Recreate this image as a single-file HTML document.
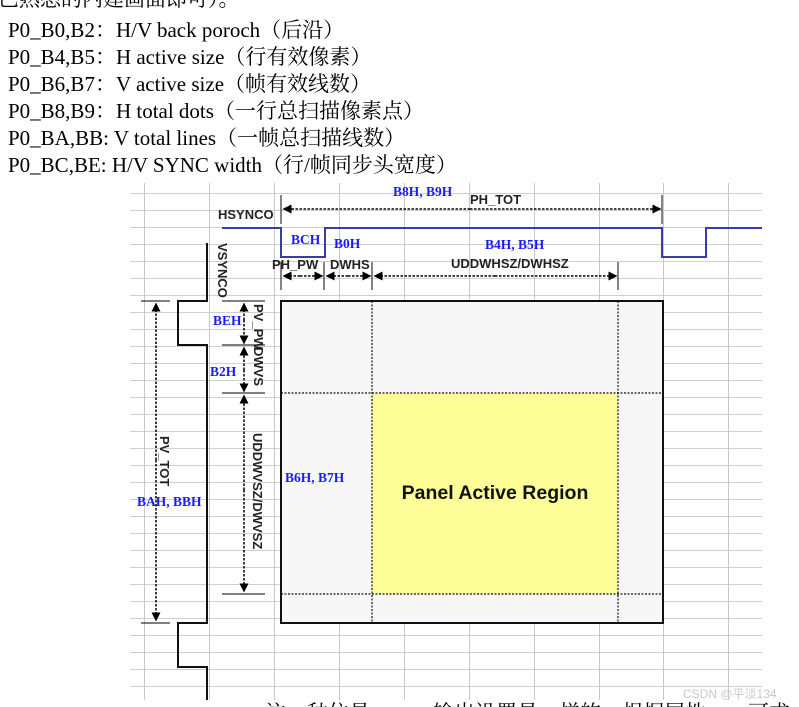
<!DOCTYPE html>
<html><head><meta charset="utf-8"><style>
html,body{margin:0;padding:0;background:#fff;width:799px;height:707px;overflow:hidden}
svg{display:block}
.t{font-family:"Liberation Serif","Noto Serif CJK SC",serif;font-size:21px;fill:#000}
.a{font-family:"Liberation Sans",sans-serif;font-size:13px;font-weight:bold;fill:#222}
.b{font-family:"Liberation Serif",serif;font-size:13.5px;font-weight:bold;fill:#1a1aff}
</style></head><body>
<svg width="799" height="707" viewBox="0 0 799 707" xmlns="http://www.w3.org/2000/svg">
<defs>
<pattern id="g" x="0" y="193" width="799" height="17" patternUnits="userSpaceOnUse">
<line x1="0" y1="0.5" x2="799" y2="0.5" stroke="#cfcfcf" stroke-width="1"/>
</pattern>
<marker id="ar" markerWidth="6" markerHeight="6" refX="5" refY="3" orient="auto"><path d="M0,0 L6,3 L0,6 z" fill="#000"/></marker>
</defs>
<text class="t" x="-2" y="6">已熟悉的内建画面即可）。</text>
<text class="t" x="8" y="37">P0_B0,B2：H/V back poroch（后沿）</text>
<text class="t" x="8" y="64">P0_B4,B5：H active size（行有效像素）</text>
<text class="t" x="8" y="91">P0_B6,B7：V active size（帧有效线数）</text>
<text class="t" x="8" y="118">P0_B8,B9：H total dots（一行总扫描像素点）</text>
<text class="t" x="8" y="145">P0_BA,BB: V total lines（一帧总扫描线数）</text>
<text class="t" x="8" y="172">P0_BC,BE: H/V SYNC width（行/帧同步头宽度）</text>
<rect x="130" y="183" width="632" height="517" fill="url(#g)"/>
<g stroke="#c8c8c8" stroke-width="1">
<line x1="144.5" y1="183" x2="144.5" y2="700"/><line x1="209.5" y1="183" x2="209.5" y2="700"/>
<line x1="274.5" y1="183" x2="274.5" y2="700"/><line x1="339.5" y1="183" x2="339.5" y2="700"/>
<line x1="404.5" y1="183" x2="404.5" y2="700"/><line x1="469.5" y1="183" x2="469.5" y2="700"/>
<line x1="534.5" y1="183" x2="534.5" y2="700"/><line x1="599.5" y1="183" x2="599.5" y2="700"/>
<line x1="663.5" y1="183" x2="663.5" y2="700"/><line x1="728.5" y1="183" x2="728.5" y2="700"/>
</g>
<rect x="281" y="301" width="382" height="322" fill="#f7f7f7" stroke="#111" stroke-width="2"/>
<rect x="372" y="393" width="246" height="201" fill="#ffff99"/>
<g stroke="#111" stroke-width="1.2" stroke-dasharray="2,1.5">
<line x1="372" y1="301" x2="372" y2="623"/><line x1="618" y1="301" x2="618" y2="623"/>
<line x1="281" y1="393" x2="663" y2="393"/><line x1="281" y1="594" x2="663" y2="594"/>
</g>
<text x="495" y="499" text-anchor="middle" font-family="Liberation Sans,sans-serif" font-size="19.5" font-weight="bold" fill="#111">Panel Active Region</text>
<polyline points="222,228 281,228 281,257 325,257 325,228 662,228 662,257 706,257 706,228 762,228" fill="none" stroke="#3a3aaa" stroke-width="2"/>
<g stroke="#333" stroke-width="1.2">
<line x1="281" y1="195" x2="281" y2="224"/><line x1="662" y1="195" x2="662" y2="224"/>
<line x1="281" y1="262" x2="281" y2="290"/><line x1="324" y1="262" x2="324" y2="290"/>
<line x1="372" y1="262" x2="372" y2="290"/><line x1="618" y1="262" x2="618" y2="290"/>
</g>
<g stroke="#000" stroke-width="1.5" stroke-dasharray="2.5,1.5" marker-end="url(#ar)">
<line x1="470" y1="209" x2="284" y2="209"/><line x1="470" y1="209" x2="660" y2="209"/>
<line x1="300" y1="276" x2="284" y2="276"/><line x1="300" y1="276" x2="322" y2="276"/>
<line x1="348" y1="276" x2="327" y2="276"/><line x1="348" y1="276" x2="370" y2="276"/>
<line x1="495" y1="276" x2="375" y2="276"/><line x1="495" y1="276" x2="616" y2="276"/>
</g>
<text class="a" x="218" y="219">HSYNCO</text>
<text class="a" x="470" y="204">PH_TOT</text>
<text class="a" x="272" y="269">PH_PW</text>
<text class="a" x="330" y="269">DWHS</text>
<text class="a" x="451" y="268">UDDWHSZ/DWHSZ</text>
<text class="b" x="393" y="196">B8H, B9H</text>
<text class="b" x="291" y="244">BCH</text>
<text class="b" x="334" y="248">B0H</text>
<text class="b" x="485" y="249">B4H, B5H</text>
<polyline points="207,243 207,301 178,301 178,345 207,345 207,623 178,623 178,667 207,667 207,700" fill="none" stroke="#111" stroke-width="2"/>
<g stroke="#333" stroke-width="1.2">
<line x1="141" y1="301" x2="170" y2="301"/><line x1="141" y1="623" x2="170" y2="623"/>
<line x1="222" y1="301" x2="265" y2="301"/><line x1="222" y1="345" x2="265" y2="345"/>
<line x1="222" y1="393" x2="265" y2="393"/><line x1="222" y1="594" x2="265" y2="594"/>
</g>
<g stroke="#000" stroke-width="1.5" stroke-dasharray="2.5,1.5" marker-end="url(#ar)">
<line x1="156" y1="460" x2="156" y2="304"/><line x1="156" y1="460" x2="156" y2="620"/>
<line x1="244" y1="320" x2="244" y2="304"/><line x1="244" y1="320" x2="244" y2="343"/>
<line x1="244" y1="370" x2="244" y2="348"/><line x1="244" y1="370" x2="244" y2="391"/>
<line x1="244" y1="490" x2="244" y2="396"/><line x1="244" y1="490" x2="244" y2="591"/>
</g>
<text class="a" transform="translate(218,243) rotate(90)">VSYNCO</text>
<text class="a" transform="translate(160,436) rotate(90)">PV_TOT</text>
<text class="a" transform="translate(254,304) rotate(90)">PV_PW</text>
<text class="a" transform="translate(254,347) rotate(90)">DWVS</text>
<text class="a" transform="translate(253,433) rotate(90)">UDDWVSZ/DWVSZ</text>
<text class="b" x="213" y="325">BEH</text>
<text class="b" x="210" y="376">B2H</text>
<text class="b" x="137" y="506">BAH, BBH</text>
<text class="b" x="285" y="482">B6H, B7H</text>
<text x="683" y="698" font-family="Liberation Sans,Noto Sans CJK SC,sans-serif" font-size="12" fill="#c8c8c8">CSDN @平淡134</text>
<text class="t" x="265" y="720">注：种位是　　　输出设置是　样的，根据属性　　可求</text>
</svg>
</body></html>
